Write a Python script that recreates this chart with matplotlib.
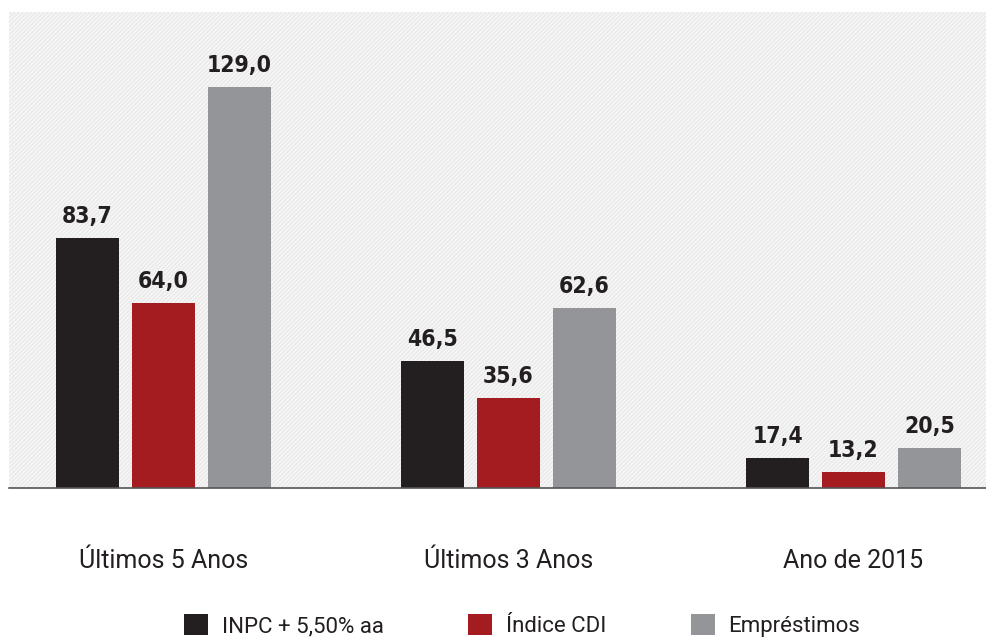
import matplotlib.pyplot as plt
from matplotlib.patches import Rectangle
from matplotlib import font_manager
import numpy as np

categorias = ["Últimos 5 Anos", "Últimos 3 Anos", "Ano de 2015"]
series = ["INPC + 5,50% aa", "Índice CDI", "Empréstimos"]
inpc = [83.7, 46.5, 17.4]
cdi = [64.0, 35.6, 13.2]
emprestimos = [129.0, 62.6, 20.5]
cores = ["#231f20", "#a51c20", "#939598"]

plt.rcParams['font.family'] = ['Roboto', 'DejaVu Sans']

# fonte condensada em negrito para os rótulos, se houver
cands = [f for f in font_manager.fontManager.ttflist
         if (f.weight if isinstance(f.weight, int) else 400) >= 700
         and ("Narrow" in f.name or "Condensed" in f.name
              or "condensed" in str(f.stretch) or "Condensed" in f.fname)
         and "Italic" not in f.fname and "Oblique" not in f.fname]
cands.sort(key=lambda f: (0 if "Liberation" in f.name else 1, f.fname))
if cands:
    fp_valores = font_manager.FontProperties(fname=cands[0].fname, size=16.5)
else:
    fp_valores = font_manager.FontProperties(family=['Roboto', 'DejaVu Sans'],
                                             weight="bold", size=14.5)

fig = plt.figure(figsize=(9.87, 6.41), dpi=100)
ax = fig.add_axes([0.009, 0.2387, 0.991, 0.7426])

# fundo listrado
ax.set_facecolor("#eaeaeb")
ax.add_patch(Rectangle((0, 0), 1, 1, transform=ax.transAxes, facecolor="none",
                       edgecolor="#f7f7f7", hatch="////////", linewidth=0, zorder=0))

x = np.arange(len(categorias))
largura = 0.183
desloc = 0.22
barras = []
for i, (vals, cor) in enumerate(zip([inpc, cdi, emprestimos], cores)):
    b = ax.bar(x + (i - 1) * desloc, vals, largura, color=cor, label=series[i], zorder=2)
    barras.append(b)
    for xi, v in zip(x + (i - 1) * desloc, vals):
        ax.text(xi, v + 3.0, f"{v:.1f}".replace(".", ","), ha="center", va="bottom",
                color="#231f20", fontproperties=fp_valores)

ax.set_xlim(-0.448, 2.387)
ax.set_ylim(8.4, 151.6)
for s in ["top", "right", "left"]:
    ax.spines[s].set_visible(False)
ax.spines["bottom"].set_color("#555555")
ax.spines["bottom"].set_linewidth(1.2)
ax.set_yticks([])
ax.set_xticks(x)
ax.set_xticklabels(categorias, fontsize=18, color="#231f20")
ax.tick_params(axis="x", length=0, pad=44)

fig.legend(handles=barras, labels=series, loc="center", bbox_to_anchor=(0.529, 0.024),
           ncol=3, frameon=False, fontsize=16, handlelength=1.1, handleheight=1.1,
           handletextpad=0.6, columnspacing=3.8, labelcolor="#231f20")

fig.savefig("out.png", dpi=100, facecolor="white")
